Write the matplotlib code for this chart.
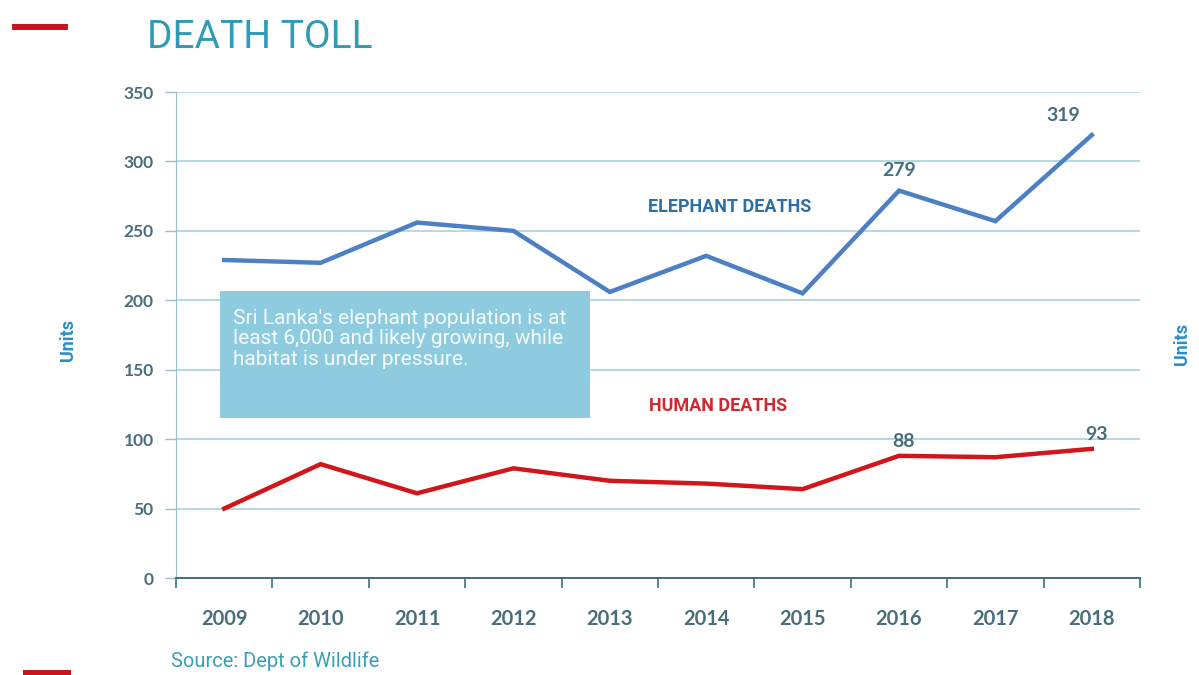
import matplotlib.pyplot as plt
from matplotlib.patches import Rectangle

years = ["2009", "2010", "2011", "2012", "2013", "2014", "2015", "2016", "2017", "2018"]
elephant_deaths = [229, 227, 256, 250, 206, 232, 205, 279, 257, 319]
human_deaths = [50, 82, 61, 79, 70, 68, 64, 88, 87, 93]
y_ticks = [0, 50, 100, 150, 200, 250, 300, 350]
# points that get a value label
elephant_labelled = [7, 9]
human_labelled = [7, 9]

narrow = ["Roboto", "DejaVu Sans"]
tick_font = ["Lato", "DejaVu Sans"]

elephant_blue = "#4d80c3"
human_red = "#d0161b"
tick_col = "#476e7a"
grid_col = "#a8d2dd"

fig = plt.figure(figsize=(11.99, 6.75), dpi=100)
ax = fig.add_axes([0.1468, 0.1437, 0.804, 0.72])

x = list(range(len(years)))
ax.plot(x, elephant_deaths, color=elephant_blue, linewidth=3.2, solid_joinstyle="miter", zorder=3)
ax.plot(x, human_deaths, color=human_red, linewidth=3.2, solid_joinstyle="miter", zorder=3)

ax.set_xlim(-0.5, len(years) - 0.5)
ax.set_ylim(0, 350)
ax.set_yticks(y_ticks)
ax.set_yticklabels([str(v) for v in y_ticks], fontfamily=tick_font, fontweight="bold",
                   fontsize=12.5, color=tick_col)
ax.set_xticks(x)
ax.set_xticklabels(years, fontfamily=tick_font, fontweight="bold", fontsize=14.5, color=tick_col)
# category ticks sit between the years
ax.set_xticks([i - 0.5 for i in range(len(years) + 1)], minor=True)
ax.tick_params(axis="x", which="major", length=0, pad=22)
ax.tick_params(axis="x", which="minor", length=7, width=1.2, color="#3f6f7c", direction="out")
ax.tick_params(axis="y", length=8, width=1, color="#9bbfc8", pad=8)

ax.grid(axis="y", color=grid_col, linewidth=1.2, zorder=0)
for pos in ["top", "right"]:
    ax.spines[pos].set_visible(False)
ax.spines["left"].set_color("#9bbfc8")
ax.spines["bottom"].set_color("#3f6f7c")
ax.spines["bottom"].set_linewidth(1.4)

# value labels
for i in elephant_labelled:
    dx = -0.3 if i == len(years) - 1 else 0
    ax.text(i + dx, elephant_deaths[i] + 8, str(elephant_deaths[i]), ha="center", va="bottom",
            fontfamily=tick_font, fontweight="bold", fontsize=14, color=tick_col)
for i in human_labelled:
    ax.text(i + 0.05, human_deaths[i] + 4, str(human_deaths[i]), ha="center", va="bottom",
            fontfamily=tick_font, fontweight="bold", fontsize=14, color=tick_col)

# series names
ax.text(5.24, 267, "ELEPHANT DEATHS", ha="center", va="center", fontfamily=narrow,
        fontweight="bold", fontsize=13, color="#2c6fa6")
ax.text(5.12, 124, "HUMAN DEATHS", ha="center", va="center", fontfamily=narrow,
        fontweight="bold", fontsize=13, color="#d0282e")

# note box
ax.add_patch(Rectangle((-0.04, 115), 3.83, 92, facecolor="#8ecbdf", edgecolor="none", zorder=4))
ax.text(0.09, 194, "Sri Lanka's elephant population is at\nleast 6,000 and likely growing, while\n"
        "habitat is under pressure.", ha="left", va="top", fontfamily=narrow, fontsize=15,
        color="#f4fbfd", linespacing=1.1, zorder=5)

# titles and side labels
fig.text(0.123, 0.944, "DEATH TOLL", ha="left", va="center", fontfamily=narrow,
         fontsize=28, color="#2f9bb6")
fig.text(0.057, 0.496, "Units", rotation=90, ha="center", va="center", fontfamily=narrow,
         fontweight="bold", fontsize=13, color="#2a8ec3")
fig.text(0.986, 0.491, "Units", rotation=90, ha="center", va="center", fontfamily=narrow,
         fontweight="bold", fontsize=13, color="#2a8ec3")
fig.text(0.143, 0.006, "Source: Dept of Wildlife", ha="left", va="bottom", fontfamily=narrow,
         fontsize=14.5, color="#3a9fb4")

# red accent bars
fig.patches.append(Rectangle((0.010, 0.955), 0.047, 0.009, transform=fig.transFigure,
                             facecolor="#c8141c", edgecolor="none"))
fig.patches.append(Rectangle((0.019, 0.0), 0.040, 0.008, transform=fig.transFigure,
                             facecolor="#c8141c", edgecolor="none"))

fig.savefig("out.png", dpi=100, facecolor="white")
